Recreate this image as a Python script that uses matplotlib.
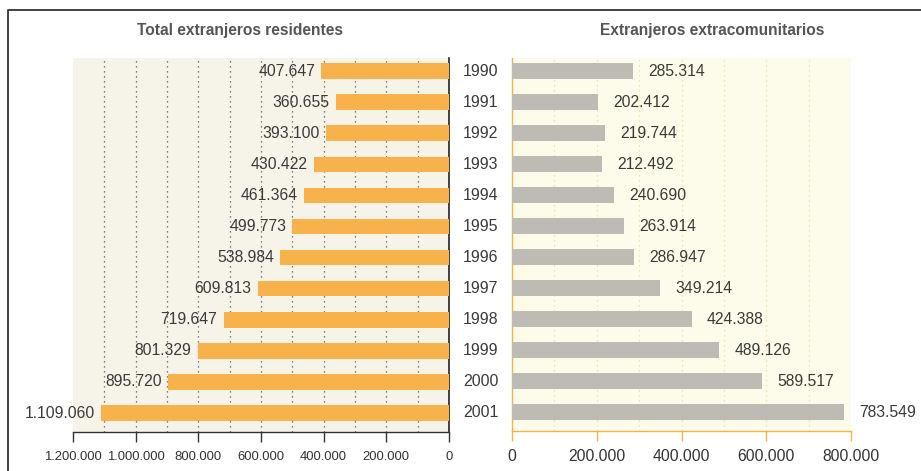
import matplotlib
matplotlib.use("Agg")
import matplotlib.pyplot as plt
from matplotlib.lines import Line2D

years = ["1990", "1991", "1992", "1993", "1994", "1995", "1996", "1997",
         "1998", "1999", "2000", "2001"]
total = [407647, 360655, 393100, 430422, 461364, 499773, 538984, 609813,
         719647, 801329, 895720, 1109060]
extra = [285314, 202412, 219744, 212492, 240690, 263914, 286947, 349214,
         424388, 489126, 589517, 783549]
total_labels = ["407.647", "360.655", "393.100", "430.422", "461.364", "499.773",
                "538.984", "609.813", "719.647", "801.329", "895.720", "1.109.060"]
extra_labels = ["285.314", "202.412", "219.744", "212.492", "240.690", "263.914",
                "286.947", "349.214", "424.388", "489.126", "589.517", "783.549"]
left_ticks = [1200000, 1000000, 800000, 600000, 400000, 200000, 0]
left_ticklabels = ["1.200.000", "1.000.000", "800.000", "600.000", "400.000", "200.000", "0"]
right_ticks = [0, 200000, 400000, 600000, 800000]
right_ticklabels = ["0", "200.000", "400.000", "600.000", "800.000"]
title_left = "Total extranjeros residentes"
title_right = "Extranjeros extracomunitarios"

plt.rcParams['font.family'] = ['Liberation Sans', 'DejaVu Sans']

W, H = 921, 471
fig = plt.figure(figsize=(W / 100, H / 100), dpi=100)
fig.patch.set_facecolor('white')

def fr(x0, y0, x1, y1):
    return [x0 / W, 1 - y1 / H, (x1 - x0) / W, (y1 - y0) / H]

orange = '#f8b24c'
gray = '#bdbbb3'
txt = '#3a3a3a'
axis_orange = '#f3b445'

ypos = list(range(len(years)))
ylim = (11.61, -0.42)

# Left axes
ax1 = fig.add_axes(fr(73, 58, 449, 432))
ax1.set_facecolor('#f6f3e9')
ax1.barh(ypos, total, height=0.5, color=orange, zorder=3)
ax1.set_xlim(1200000, 0)
ax1.set_ylim(*ylim)
for g in range(100000, 1200000, 100000):
    ax1.axvline(g, color='#555555', lw=0.9, ls=(0, (1, 3)), zorder=2)
for i, (v, lab) in enumerate(zip(total, total_labels)):
    ax1.annotate(lab, xy=(v, i), xytext=(-4.5, 0), textcoords='offset points',
                 ha='right', va='center', fontsize=11.3, color=txt, zorder=4)
ax1.set_xticks(left_ticks)
ax1.set_xticklabels(left_ticklabels, fontsize=9.4, color='#333333')
ax1.set_yticks([])
for s in ['top', 'left']:
    ax1.spines[s].set_visible(False)
ax1.spines['bottom'].set_color('#333333')
ax1.spines['bottom'].set_linewidth(1.0)
ax1.spines['right'].set_color('#222222')
ax1.spines['right'].set_linewidth(1.2)
ax1.tick_params(axis='x', length=7.5, width=1.0, color='#333333', pad=6, direction='out')

# Right axes
ax2 = fig.add_axes(fr(512, 58, 851, 431))
ax2.set_facecolor('#fdfbea')
ax2.barh(ypos, extra, height=0.5, color=gray, zorder=3)
ax2.set_xlim(0, 800000)
ax2.set_ylim(*ylim)
for g in range(100000, 800000, 100000):
    ax2.axvline(g, color='#f2dc90', lw=0.9, ls=(0, (1, 3)), zorder=2)
for i, (v, lab) in enumerate(zip(extra, extra_labels)):
    ax2.annotate(lab, xy=(v, i), xytext=(11, 0), textcoords='offset points',
                 ha='left', va='center', fontsize=11.3, color=txt, zorder=4)
ax2.set_xticks(right_ticks)
ax2.set_xticklabels(right_ticklabels, fontsize=11.3, color='#333333')
ax2.set_yticks([])
for s in ['top', 'right']:
    ax2.spines[s].set_visible(False)
for s in ['bottom', 'left']:
    ax2.spines[s].set_color(axis_orange)
    ax2.spines[s].set_linewidth(1.0)
ax2.tick_params(axis='x', length=7, width=1.0, color=axis_orange, pad=6, direction='out')

# Year labels in the middle
for i, y in enumerate(years):
    ax2.annotate(y, xy=(0, i), xytext=(-22.5, 0), textcoords='offset points',
                 ha='center', va='center', fontsize=11.5, color=txt)

# Titles
fig.text(240 / W, 1 - 30 / H, title_left, ha='center', va='center',
         fontsize=11.2, fontweight='bold', color='#555555')
fig.text(712 / W, 1 - 30 / H, title_right, ha='center', va='center',
         fontsize=11.2, fontweight='bold', color='#555555')

# Frame border
fig.add_artist(Line2D([8 / W, 8 / W, 1.0], [0.0, 1 - 10 / H, 1 - 10 / H],
                      transform=fig.transFigure, color='#333333', lw=1.3))

fig.savefig('out.png', dpi=100)
